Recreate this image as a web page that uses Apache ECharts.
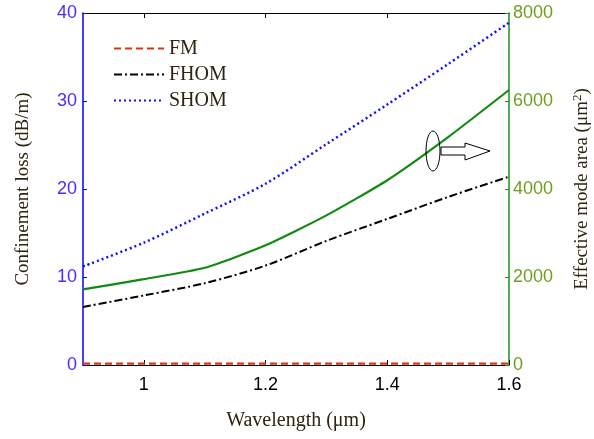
<!DOCTYPE html>
<html><head><meta charset="utf-8">
<script src="https://cdn.jsdelivr.net/npm/echarts@6/dist/echarts.min.js"></script>
<style>html,body{margin:0;padding:0;background:#fff}#c{width:594px;height:439px}</style>
</head><body><div id="c"></div>
<script>
const wavelength = [0.9, 1.0, 1.1, 1.2, 1.3, 1.4, 1.5, 1.6];
const fmLoss   = [0.15, 0.15, 0.15, 0.15, 0.15, 0.15, 0.15, 0.15];
const fhomLoss = [6.6, 7.9, 9.3, 11.3, 14.1, 16.6, 19.1, 21.4];
const shomLoss = [11.2, 13.9, 17.2, 20.6, 25.1, 29.6, 34.2, 38.9];
const modeArea = [1720, 1950, 2210, 2720, 3400, 4200, 5180, 6250];
const xTicks = [1.0, 1.2, 1.4, 1.6];

const pair = (ys) => wavelength.map((x, i) => [x, ys[i]]);
const serif = '"Liberation Serif", "DejaVu Serif", serif';
const sans = '"Liberation Sans", Arial, sans-serif';
const nameColor = '#2e2410';

const chart = echarts.init(document.getElementById('c'));
chart.setOption({
  animation: false,
  grid: { left: 83, right: 85, top: 13, bottom: 74, outerBoundsMode: 'none', containLabel: false },
  legend: {
    data: ['FM', 'FHOM', 'SHOM'],
    orient: 'vertical', left: 108, top: 33,
    itemWidth: 50, itemHeight: 14, itemGap: 5,
    itemStyle: { opacity: 0 },
    textStyle: { fontFamily: serif, fontSize: 20, lineHeight: 21, color: nameColor },
    backgroundColor: 'transparent'
  },
  xAxis: [{
    type: 'value', min: 0.9, max: 1.6,
    name: 'Wavelength (\u03bcm)', nameLocation: 'middle', nameGap: 46,
    nameTextStyle: { fontFamily: serif, fontSize: 20, color: nameColor },
    axisLine: { show: true, onZero: false, lineStyle: { color: '#000', width: 1 } },
    axisTick: { show: true, inside: true, length: 5, customValues: xTicks, lineStyle: { color: '#000' } },
    axisLabel: { customValues: xTicks, fontFamily: sans, fontSize: 18, color: '#000', margin: 11,
      formatter: v => String(Math.round(v * 10) / 10) },
    splitLine: { show: false }
  }, {
    type: 'value', min: 0.9, max: 1.6, position: 'top',
    axisLine: { show: true, onZero: false, lineStyle: { color: '#000', width: 1 } },
    axisTick: { show: true, inside: true, length: 5, customValues: [1.0, 1.2, 1.4], lineStyle: { color: '#000' } },
    axisLabel: { show: false }, splitLine: { show: false }
  }],
  yAxis: [{
    type: 'value', min: 0, max: 40, interval: 10, position: 'left',
    name: 'Confinement loss (dB/m)', nameLocation: 'middle', nameGap: 50,
    nameTextStyle: { fontFamily: serif, fontSize: 19, color: nameColor },
    axisLine: { show: true, onZero: false, lineStyle: { color: '#0000ff', width: 1.5 } },
    axisTick: { show: true, inside: true, length: 4, lineStyle: { color: '#0000ff' } },
    axisLabel: { fontFamily: sans, fontSize: 18, color: '#4a2cff', margin: 6 },
    splitLine: { show: false }
  }, {
    type: 'value', min: 0, max: 8000, interval: 2000, position: 'right',
    name: 'Effective mode area (\u03bcm{sup|2})', nameLocation: 'middle', nameGap: 62,
    nameTextStyle: { fontFamily: serif, fontSize: 19, color: nameColor,
      rich: { sup: { fontFamily: serif, fontSize: 13, color: nameColor, verticalAlign: 'top', padding: [0, 0, 9, 0] } } },
    axisLine: { show: true, onZero: false, lineStyle: { color: '#1e8c1e', width: 1.5 } },
    axisTick: { show: true, inside: true, length: 4, lineStyle: { color: '#1e8c1e' } },
    axisLabel: { fontFamily: sans, fontSize: 18, color: '#6f9f22', margin: 4, formatter: v => String(v) },
    splitLine: { show: false }
  }],
  series: [
    { name: 'FM', type: 'line', yAxisIndex: 0, data: pair(fmLoss), symbol: 'none', z: 5,
      lineStyle: { color: '#dd3311', width: 2.2, type: [7, 4] }, itemStyle: { color: '#dd3311' } },
    { name: 'FHOM', type: 'line', yAxisIndex: 0, data: pair(fhomLoss), symbol: 'none', smooth: 0.3,
      lineStyle: { color: '#000', width: 2, type: [8, 3, 2, 3] }, itemStyle: { color: '#000' } },
    { name: 'SHOM', type: 'line', yAxisIndex: 0, data: pair(shomLoss), symbol: 'none', smooth: 0.3,
      lineStyle: { color: '#1010ff', width: 2.5, type: [2, 3] }, itemStyle: { color: '#1010ff' } },
    { name: 'Area', type: 'line', yAxisIndex: 1, data: pair(modeArea), symbol: 'none', smooth: 0.2,
      lineStyle: { color: '#128a12', width: 2.2 }, itemStyle: { color: '#128a12' } }
  ],
  graphic: [
    { type: 'ellipse', shape: { cx: 433, cy: 151, rx: 7, ry: 20 },
      style: { fill: 'none', stroke: '#000', lineWidth: 1 }, z: 10 },
    { type: 'polygon', shape: { points: [[441,147],[465,147],[465,143],[490,151],[465,160],[465,155],[441,155]] },
      style: { fill: '#fff', stroke: '#000', lineWidth: 1 }, z: 10 }
  ]
});
</script></body></html>
